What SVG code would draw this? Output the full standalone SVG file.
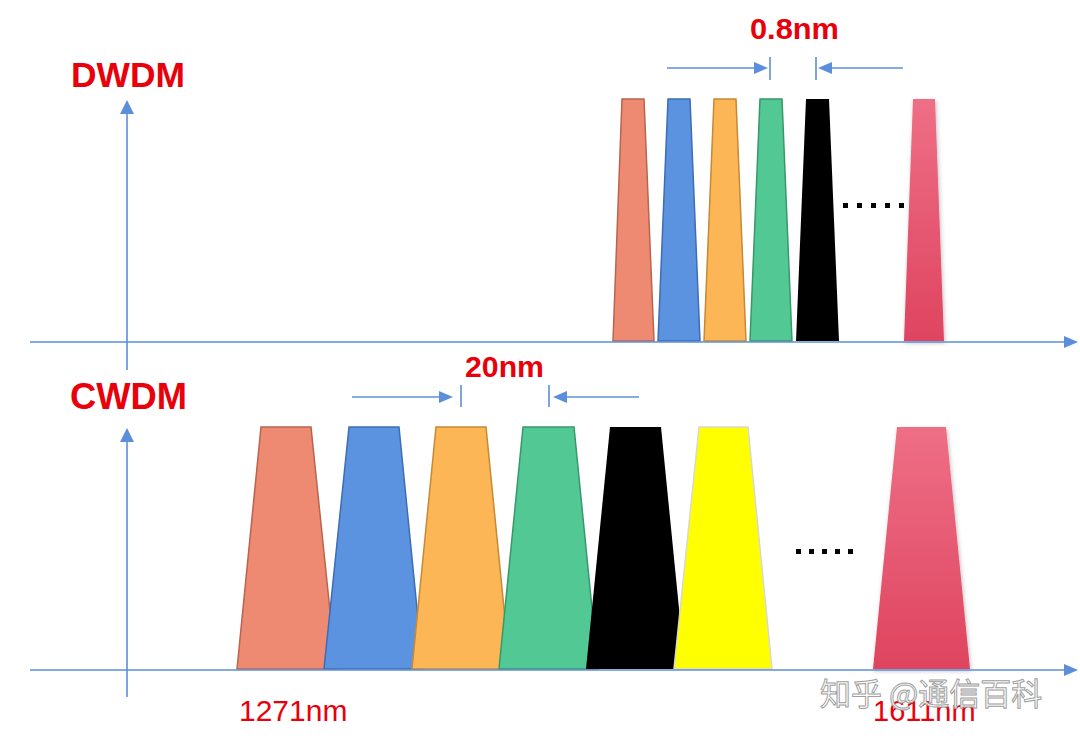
<svg xmlns="http://www.w3.org/2000/svg" width="1080" height="739" viewBox="0 0 1080 739">
<defs>
<style>
.ax{stroke:#5B8FD9;stroke-width:1.6;fill:none}
.ah{fill:#5B8FD9}
.lbl{font-family:"Liberation Sans",Arial,sans-serif;font-weight:bold;fill:#E8000B}
.nm{font-family:"Liberation Sans",Arial,sans-serif;fill:#E8000B}
.sal{fill:#EE8A72;stroke:#B9644F;stroke-width:1.5}
.blu{fill:#5B93E0;stroke:#3E6DB3;stroke-width:1.5}
.org{fill:#FDB656;stroke:#C68934;stroke-width:1.5}
.grn{fill:#52C995;stroke:#379868;stroke-width:1.5}
.blk{fill:#000}
.yel{fill:#FFFF00;stroke:#D9D9C8;stroke-width:1.5}
.pnk{fill:url(#pg);filter:url(#sh)}
.dot{fill:#000}
.wm{font-family:"Noto Sans CJK SC","Liberation Sans",sans-serif;font-size:31px;fill:#fff;stroke:#A0A0A0;stroke-width:1}
</style>
<linearGradient id="pg" x1="0" y1="0" x2="0" y2="1">
<stop offset="0" stop-color="#EE6F86"/>
<stop offset="1" stop-color="#DF445F"/>
</linearGradient>
<filter id="sh" x="-20%" y="-5%" width="140%" height="110%">
<feDropShadow dx="1" dy="2" stdDeviation="2" flood-color="#000" flood-opacity="0.25"/>
</filter>
</defs>
<rect width="1080" height="739" fill="#fff"/>

<g id="labels">
<text class="lbl" x="71" y="87" font-size="35.5" textLength="114" lengthAdjust="spacingAndGlyphs">DWDM</text>
<text class="lbl" x="70" y="409" font-size="36" textLength="117" lengthAdjust="spacingAndGlyphs">CWDM</text>
<text class="lbl" x="750" y="39" font-size="30" textLength="89" lengthAdjust="spacingAndGlyphs">0.8nm</text>
<text class="lbl" x="465" y="377" font-size="30" textLength="79" lengthAdjust="spacingAndGlyphs">20nm</text>
</g>

<g id="dwdm-channels">
<g id="d1"><polygon class="sal" points="622,99 644,99 654,341 613,341"/></g>
<g id="d2"><polygon class="blu" points="668,99 690,99 700,341 658,341"/></g>
<g id="d3"><polygon class="org" points="714,99 736,99 746,341 704,341"/></g>
<g id="d4"><polygon class="grn" points="760,99 782,99 792,341 750,341"/></g>
<g id="d5"><polygon class="blk" points="806,99 829,99 839,341 796,341"/></g>
<g id="d6"><polygon class="pnk" points="913,99 935,99 944,341 904,341"/></g>
<g id="d-dots">
<rect class="dot" x="843" y="203" width="5" height="5"/>
<rect class="dot" x="857" y="203" width="5" height="5"/>
<rect class="dot" x="871" y="203" width="5" height="5"/>
<rect class="dot" x="885" y="203" width="5" height="5"/>
<rect class="dot" x="899" y="203" width="5" height="5"/>
</g>
</g>

<g id="cwdm-channels">
<g id="c1"><polygon class="sal" points="261,427 311,427 336,669 237,669"/></g>
<g id="c2"><polygon class="blu" points="349,427 399,427 423,669 324,669"/></g>
<g id="c3"><polygon class="org" points="436,427 486,427 510,669 412,669"/></g>
<g id="c4"><polygon class="grn" points="523,427 574,427 598,669 499,669"/></g>
<g id="c5"><polygon class="blk" points="610,427 661,427 685,669 586,669"/></g>
<g id="c6"><polygon class="yel" points="699,427 748,427 772,669 674,669"/></g>
<g id="c7"><polygon class="pnk" points="897,427 946,427 970,669 873,669"/></g>
<g id="c-dots">
<rect class="dot" x="796" y="549" width="5" height="5"/>
<rect class="dot" x="809" y="549" width="5" height="5"/>
<rect class="dot" x="822" y="549" width="5" height="5"/>
<rect class="dot" x="835" y="549" width="5" height="5"/>
<rect class="dot" x="848" y="549" width="5" height="5"/>
</g>
</g>

<g id="connectors">
<line class="ax" x1="30" y1="342" x2="1066" y2="342"/>
<polygon class="ah" points="1078,342 1064,336 1064,348"/>
<line class="ax" x1="127" y1="370" x2="127" y2="112"/>
<polygon class="ah" points="127,100 120,114 134,114"/>
<line class="ax" x1="30" y1="670" x2="1066" y2="670"/>
<polygon class="ah" points="1078,670 1064,664 1064,676"/>
<line class="ax" x1="127" y1="697" x2="127" y2="440"/>
<polygon class="ah" points="127,428 120,442 134,442"/>
<line class="ax" x1="667" y1="68" x2="756" y2="68"/>
<polygon class="ah" points="768,68 754,62 754,74"/>
<line class="ax" x1="770" y1="57" x2="770" y2="80"/>
<line class="ax" x1="816" y1="57" x2="816" y2="80"/>
<polygon class="ah" points="818,68 832,62 832,74"/>
<line class="ax" x1="830" y1="68" x2="903" y2="68"/>
<line class="ax" x1="352" y1="397" x2="441" y2="397"/>
<polygon class="ah" points="453,397 439,391 439,403"/>
<line class="ax" x1="461" y1="385" x2="461" y2="407"/>
<line class="ax" x1="549" y1="385" x2="549" y2="407"/>
<polygon class="ah" points="553,397 567,391 567,403"/>
<line class="ax" x1="565" y1="397" x2="639" y2="397"/>
</g>

<g id="wavelengths">
<text class="nm" x="239" y="721" font-size="30">1271nm</text>
<text class="nm" x="873" y="721" font-size="29">1611nm</text>
</g>

<g id="watermark">
<text class="wm" x="820" y="705">知乎 @通信百科</text>
</g>
</svg>
